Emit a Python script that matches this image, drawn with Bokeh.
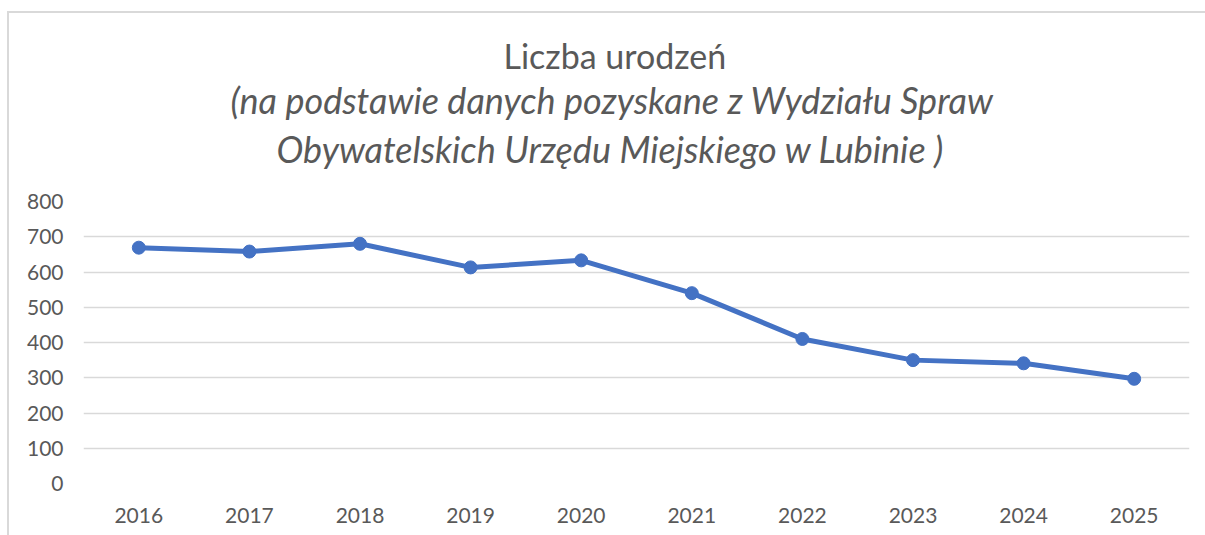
from bokeh.plotting import figure
from bokeh.models import FactorRange, Range1d, Title, ColumnDataSource, SingleIntervalTicker
from bokeh.embed import file_html
from bokeh.resources import INLINE

years = ["2016", "2017", "2018", "2019", "2020", "2021", "2022", "2023", "2024", "2025"]
births = [669, 658, 680, 613, 633, 540, 410, 350, 341, 297]
title_main = "Liczba urodzeń"
title_sub1 = "(na podstawie danych pozyskane z Wydziału Spraw"
title_sub2 = "Obywatelskich Urzędu Miejskiego w Lubinie )"

FONT = "Lato"
GRAY = "#595959"
BLUE = "#4472C4"

src = ColumnDataSource(dict(year=years, births=births))

p = figure(width=1198, height=524, x_range=FactorRange(*years, range_padding=0),
           y_range=Range1d(0, 800), output_backend="svg", toolbar_location=None,
           min_border_left=74, min_border_right=18, min_border_top=188, min_border_bottom=54)
p.styles = {"margin-left": "7px", "margin-top": "11px",
            "border-left": "2px solid #d9d9d9", "border-top": "2px solid #d9d9d9"}

p.outline_line_color = None
p.background_fill_color = "white"
p.border_fill_color = "white"

p.line("year", "births", source=src, line_color=BLUE, line_width=5)
p.scatter("year", "births", source=src, size=13, fill_color=BLUE, line_color=BLUE)

p.xgrid.grid_line_color = None
p.ygrid.grid_line_color = "#d9d9d9"
p.ygrid.grid_line_width = 1.5
p.yaxis.ticker = SingleIntervalTicker(interval=100)

for ax in (p.xaxis[0], p.yaxis[0]):
    ax.axis_line_color = None
    ax.major_tick_line_color = None
    ax.minor_tick_line_color = None
    ax.major_label_text_font = FONT
    ax.major_label_text_font_size = "21px"
    ax.major_label_text_color = GRAY
p.yaxis.major_label_standoff = 14
p.xaxis.major_label_standoff = 18

# spacer between the title block and the plot area
p.add_layout(Title(text=" ", text_font_size="1px", standoff=24), "above")
# titles are centred on the whole chart, not on the plot area: left-aligned with an offset
for txt, style, size, so, off in [(title_sub2, "italic", "36px", 7, 193),
                                  (title_sub1, "italic", "36px", 0, 147),
                                  (title_main, "normal", "34px", 0, 420)]:
    t = Title(text=txt, align="left", text_font=FONT, text_font_size=size,
              text_font_style=style, text_color=GRAY, standoff=so, offset=off)
    p.add_layout(t, "above")

open("out.html", "w").write(file_html(p, INLINE))
